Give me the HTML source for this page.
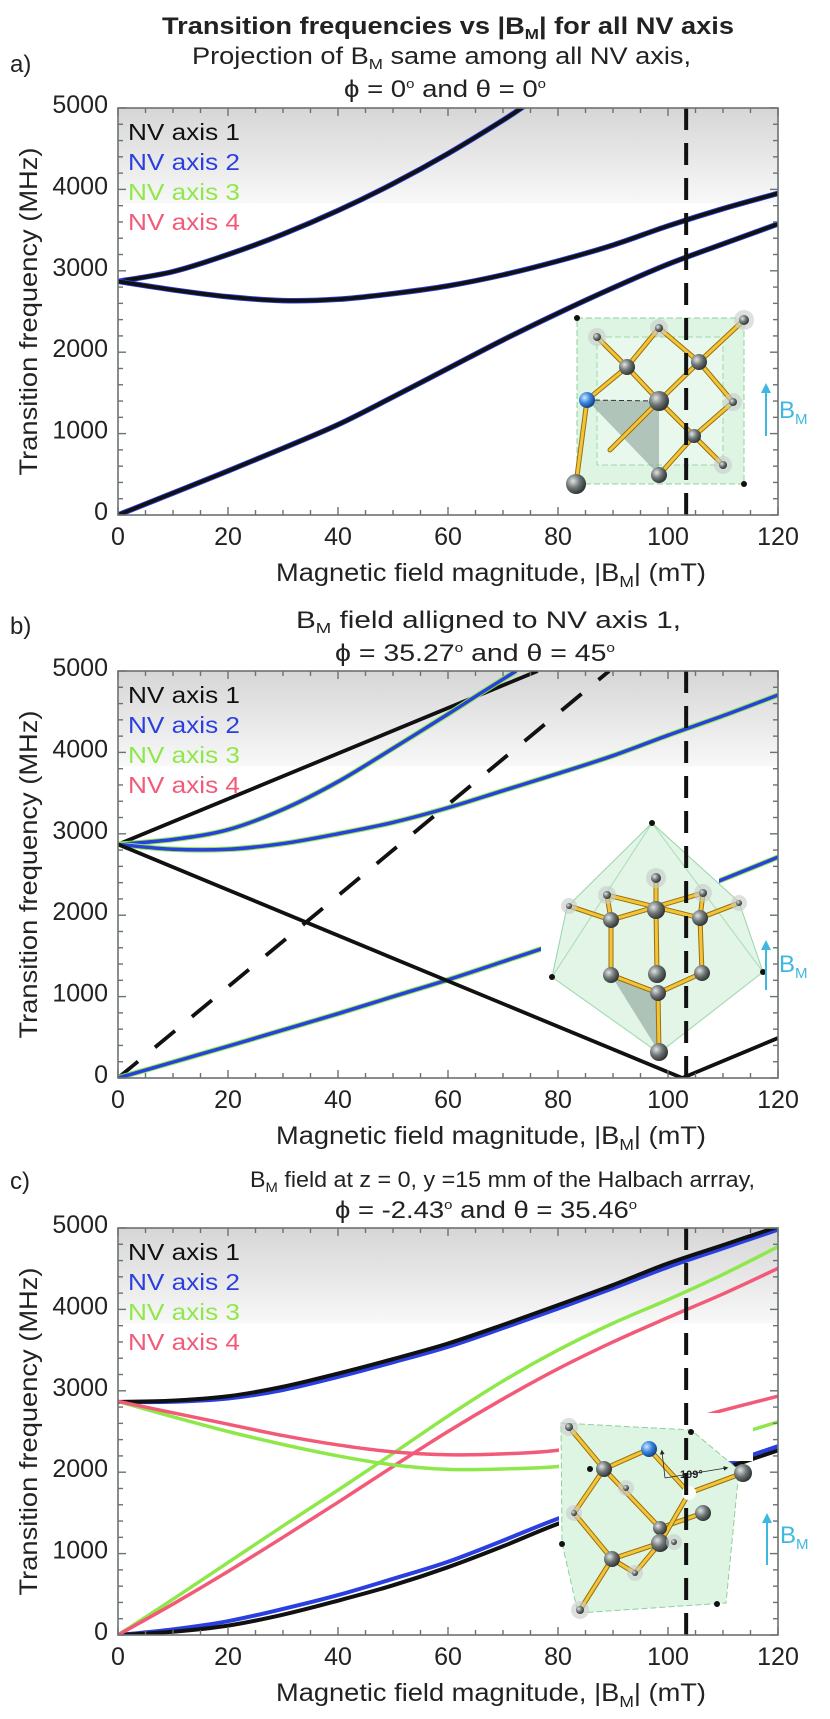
<!DOCTYPE html>
<html><head><meta charset="utf-8">
<style>
html,body{margin:0;padding:0;background:#fff;}
svg{display:block;font-family:"Liberation Sans",Arial,sans-serif;}
</style></head>
<body>
<svg id="fig" xmlns="http://www.w3.org/2000/svg" width="830" height="1719" viewBox="0 0 830 1719">
<defs>
<linearGradient id="band" x1="0" y1="0" x2="0" y2="1">
<stop offset="0" stop-color="#d6d6d6"/><stop offset="1" stop-color="#f8f8f8"/>
</linearGradient>
<radialGradient id="gatom" cx="0.35" cy="0.35" r="0.7">
<stop offset="0" stop-color="#e0e4e4"/><stop offset="0.5" stop-color="#6f7676"/><stop offset="1" stop-color="#2a2e2e"/>
</radialGradient>
<radialGradient id="batom" cx="0.35" cy="0.35" r="0.7">
<stop offset="0" stop-color="#cfe6ff"/><stop offset="0.5" stop-color="#3a86e0"/><stop offset="1" stop-color="#0d3c80"/>
</radialGradient>
<marker id="arrC" viewBox="0 0 10 10" refX="5" refY="5" markerWidth="5" markerHeight="5" orient="auto"><path d="M0,0L10,5L0,10z" fill="#3fb8e0"/></marker>
<marker id="arrK" viewBox="0 0 10 10" refX="5" refY="5" markerWidth="6" markerHeight="6" orient="auto"><path d="M0,0L10,5L0,10z" fill="#222"/></marker>
</defs>

<text x="448" y="34" text-anchor="middle" font-size="24" font-weight="bold" fill="#222" textLength="572" lengthAdjust="spacingAndGlyphs">Transition frequencies vs |B<tspan font-size="15" dy="5">M</tspan><tspan dy="-5">| for all NV axis</tspan></text>

<text x="10" y="72" font-size="24" fill="#222">a)</text>
<text x="192" y="64" font-size="24" fill="#222" textLength="499" lengthAdjust="spacingAndGlyphs">Projection of B<tspan font-size="15" dy="5">M</tspan><tspan dy="-5"> same among all NV axis,</tspan></text>
<text x="344" y="97" font-size="24" fill="#222" textLength="202" lengthAdjust="spacingAndGlyphs">ϕ = 0<tspan font-size="13" dy="-9">o</tspan><tspan dy="9"> and θ = 0</tspan><tspan font-size="13" dy="-9">o</tspan></text>

<text x="10" y="634" font-size="24" fill="#222">b)</text>
<text x="296" y="628" font-size="24" fill="#222" textLength="385" lengthAdjust="spacingAndGlyphs">B<tspan font-size="15" dy="5">M</tspan><tspan dy="-5"> field alligned to NV axis 1,</tspan></text>
<text x="335" y="661" font-size="24" fill="#222" textLength="280" lengthAdjust="spacingAndGlyphs">ϕ = 35.27<tspan font-size="13" dy="-9">o</tspan><tspan dy="9"> and θ = 45</tspan><tspan font-size="13" dy="-9">o</tspan></text>

<text x="10" y="1189" font-size="24" fill="#222">c)</text>
<text x="250" y="1187" font-size="22" fill="#222" textLength="505" lengthAdjust="spacingAndGlyphs">B<tspan font-size="14" dy="5">M</tspan><tspan dy="-5"> field at z = 0, y =15 mm of the Halbach arrray,</tspan></text>
<text x="335" y="1218" font-size="24" fill="#222" textLength="302" lengthAdjust="spacingAndGlyphs">ϕ = -2.43<tspan font-size="13" dy="-9">o</tspan><tspan dy="9"> and θ = 35.46</tspan><tspan font-size="13" dy="-9">o</tspan></text>

<g id="plots"></g>
</svg>

<script>
// ---------- data ----------
const xTicks = [0, 20, 40, 60, 80, 100, 120];
const yTicks = [0, 1000, 2000, 3000, 4000, 5000];
const legendLabels = ["NV axis 1", "NV axis 2", "NV axis 3", "NV axis 4"];
const legendColors = ["#111111", "#2a3fe0", "#8ee84a", "#f25a78"];
const gridB = [0, 10, 20, 30, 40, 50, 60, 70, 80, 90, 100, 110, 120];
const markerField = 103.3;

// panel a
const aUpperB = [0, 10, 20, 30, 40, 50, 60, 70, 74];
const aUpper = [2870, 2990, 3200, 3450, 3740, 4070, 4440, 4850, 5030];
const aMiddle = [2870, 2766, 2681, 2634, 2650, 2720, 2815, 2950, 3120, 3316, 3551, 3763, 3951];
const aLower = [0, 270, 541, 820, 1110, 1450, 1800, 2150, 2479, 2790, 3081, 3330, 3575];

// panel b
const bBlackUpB = [0, 76.3];
const bBlackUp = [2870, 5000];
const bBlackLowB = [0, 102.6, 120];
const bBlackLow = [2870, 0, 491];
const bDashB = [0, 89.3];
const bDash = [0, 5000];
const bUpperB = [0, 10, 20, 30, 40, 50, 60, 66, 72.4];
const bUpper = [2870, 2930, 3050, 3300, 3640, 4050, 4470, 4730, 5000];
const bMiddle = [2870, 2810, 2810, 2880, 3000, 3140, 3320, 3530, 3740, 3960, 4210, 4450, 4705];
const bLower = [0, 195, 390, 590, 790, 1000, 1207, 1430, 1657, 1910, 2170, 2440, 2713];

// panel c
const cBlackUp = [2863, 2880, 2933, 3050, 3212, 3390, 3581, 3810, 4053, 4300, 4565, 4790, 5016];
const cBlueUp = [2863, 2865, 2905, 3010, 3170, 3350, 3540, 3770, 4010, 4260, 4520, 4750, 4980];
const cGreenUp = [0, 440, 890, 1340, 1780, 2230, 2690, 3120, 3500, 3830, 4120, 4430, 4770];
const cRedUp = [0, 380, 780, 1200, 1630, 2070, 2500, 2900, 3270, 3600, 3900, 4190, 4504];
const cGreenDown = [2870, 2680, 2500, 2340, 2200, 2090, 2035, 2040, 2070, 2160, 2280, 2420, 2617];
const cRedDown = [2870, 2730, 2590, 2450, 2335, 2250, 2215, 2225, 2270, 2400, 2570, 2760, 2933];
const cBlackLow = [0, 40, 115, 250, 422, 610, 833, 1090, 1366, 1580, 1810, 2040, 2268];
const cBlueLow = [0, 70, 170, 320, 490, 690, 900, 1160, 1430, 1650, 1860, 2090, 2320];

// ---------- drawing ----------
const NS = "http://www.w3.org/2000/svg";
const root = document.getElementById("plots");
const L = 118, R = 778, H = 407;
function mk(tag, attrs, parent) {
  const e = document.createElementNS(NS, tag);
  for (const k in attrs) e.setAttribute(k, attrs[k]);
  (parent || root).appendChild(e);
  return e;
}
function sx(b) { return L + (b / 120) * (R - L); }

function smoothPath(pts, smooth) {
  let d = "M" + pts[0][0].toFixed(2) + "," + pts[0][1].toFixed(2);
  if (!smooth || pts.length < 3) {
    for (let i = 1; i < pts.length; i++) d += "L" + pts[i][0].toFixed(2) + "," + pts[i][1].toFixed(2);
    return d;
  }
  for (let i = 0; i < pts.length - 1; i++) {
    const p0 = pts[Math.max(0, i - 1)], p1 = pts[i], p2 = pts[i + 1], p3 = pts[Math.min(pts.length - 1, i + 2)];
    const c1x = p1[0] + (p2[0] - p0[0]) / 6, c1y = p1[1] + (p2[1] - p0[1]) / 6;
    const c2x = p2[0] - (p3[0] - p1[0]) / 6, c2y = p2[1] - (p3[1] - p1[1]) / 6;
    d += "C" + c1x.toFixed(2) + "," + c1y.toFixed(2) + " " + c2x.toFixed(2) + "," + c2y.toFixed(2) + " " + p2[0].toFixed(2) + "," + p2[1].toFixed(2);
  }
  return d;
}

function panel(top, id, series, inset, over) {
  const sy = f => top + H - (f / 5000) * H;
  const g = mk("g", {});
  
  
  const clipId = "clip" + id;
  const cp = mk("clipPath", { id: clipId }, g);
  mk("rect", { x: L, y: top, width: R - L, height: H }, cp);

  const band = mk("rect", { x: L, y: top, width: R - L, height: sy(3830) - top, fill: "url(#band)" }, g);
  
  

  const drawSeries = (list, parent) => list.forEach(s => {
    const xsArr = s.b || gridB;
    const pts = s.v.map((v, i) => [sx(xsArr[i]), sy(v)]);
    const p = mk("path", { d: smoothPath(pts, !s.straight), fill: "none", stroke: s.c, "stroke-width": s.w, "stroke-linejoin": "round", "stroke-linecap": "butt" }, parent);
    if (s.dash) p.setAttribute("stroke-dasharray", s.dash);
    
    
  });
  const cg = mk("g", { "clip-path": "url(#" + clipId + ")" }, g);
  drawSeries(series, cg);

  inset(g, sy);

  if (over) { const og = mk("g", { "clip-path": "url(#" + clipId + ")" }, g); drawSeries(over, og); }

  const vd = mk("line", { x1: sx(markerField), x2: sx(markerField), y1: top, y2: top + H, stroke: "#111", "stroke-width": 4, "stroke-dasharray": "22 13" }, g);
  
  

  const fr = mk("rect", { x: L, y: top, width: R - L, height: H, fill: "none", stroke: "#6b7272", "stroke-width": 1.6 }, g);
  
  
  for (let b = 0; b <= 120; b += 5) {
    const len = b % 20 === 0 ? 8 : 5;
    mk("line", { x1: sx(b), x2: sx(b), y1: top + H, y2: top + H - len, stroke: "#6b7272", "stroke-width": 1.4 }, g);
    mk("line", { x1: sx(b), x2: sx(b), y1: top, y2: top + len, stroke: "#6b7272", "stroke-width": 1.4 }, g);
  }
  for (let f = 0; f <= 5000; f += 200) {
    const len = f % 1000 === 0 ? 8 : 5;
    mk("line", { x1: L, x2: L + len, y1: sy(f), y2: sy(f), stroke: "#6b7272", "stroke-width": 1.4 }, g);
    mk("line", { x1: R, x2: R - len, y1: sy(f), y2: sy(f), stroke: "#6b7272", "stroke-width": 1.4 }, g);
  }
  xTicks.forEach(t => {
    const tx = mk("text", { x: sx(t), y: top + H + 30, "text-anchor": "middle", "font-size": 25, fill: "#222" }, g);
    tx.textContent = t;
    
    
  });
  yTicks.forEach(t => {
    const ty = mk("text", { x: 108, y: sy(t) + 5, "text-anchor": "end", "font-size": 25, fill: "#222" }, g);
    ty.textContent = t;
    
    
  });
  const xl = mk("text", { x: 276, y: top + H + 66, "font-size": 25, fill: "#222", textLength: 430, lengthAdjust: "spacingAndGlyphs" }, g);
  xl.innerHTML = 'Magnetic field magnitude, |B<tspan font-size="16" dy="6">M</tspan><tspan dy="-6">| (mT)</tspan>';
  
  
  const cy = top + H / 2;
  const yl = mk("text", { x: 0, y: 0, "text-anchor": "middle", "font-size": 25, fill: "#222", transform: "translate(37," + cy + ") rotate(-90)", textLength: 328, lengthAdjust: "spacingAndGlyphs" }, g);
  yl.textContent = "Transition frequency (MHz)";
  
  

  legendLabels.forEach((lab, i) => {
    const t = mk("text", { x: 128, y: top + 32 + i * 30, "font-size": 23, fill: legendColors[i], textLength: 112, lengthAdjust: "spacingAndGlyphs" }, g);
    t.textContent = lab;
    
    
  });
}

function atom(g, x, y, r, blue, halo) {
  if (halo) mk("circle", { cx: x, cy: y, r: r + 5, fill: "#c8cccc", opacity: 0.6 }, g);
  mk("circle", { cx: x, cy: y, r: r, fill: blue ? "url(#batom)" : "url(#gatom)" }, g);
}
function dot(g, x, y) { mk("circle", { cx: x, cy: y, r: 3, fill: "#111" }, g); }
function sticks(g, pts) {
  pts.forEach(p => {
    mk("line", { x1: p[0], y1: p[1], x2: p[2], y2: p[3], stroke: "#9a6f10", "stroke-width": 5, "stroke-linecap": "round" }, g);
    mk("line", { x1: p[0], y1: p[1], x2: p[2], y2: p[3], stroke: "#f2c537", "stroke-width": 3, "stroke-linecap": "round" }, g);
  });
}
function bArrow(g, x, y1, y2, ty) {
  const a = mk("line", { x1: x, y1: y1, x2: x, y2: y2, stroke: "#3fb8e0", "stroke-width": 2, "marker-end": "url(#arrC)" }, g);
  
  
  const t = mk("text", { x: x + 13, y: ty, "font-size": 24, fill: "#3fb8e0" }, g);
  t.innerHTML = 'B<tspan font-size="15" dy="6">M</tspan>';
  
  
}

function insetA(g) {
  const ig = mk("g", {}, g);
  
  
  mk("rect", { x: 572, y: 312, width: 185, height: 186, fill: "#fff" }, ig);
  mk("rect", { x: 577, y: 318, width: 167, height: 166, fill: "#dff5e4", stroke: "#8fcf9f", "stroke-width": 1, "stroke-dasharray": "6 3" }, ig);
  mk("rect", { x: 597, y: 337, width: 126, height: 128, fill: "#e8f8ec", stroke: "#9fd8ae", "stroke-width": 1, "stroke-dasharray": "6 3" }, ig);
  mk("polygon", { points: "587,400 659,401 659,475", fill: "#8aa29a", opacity: 0.6 }, ig);
  mk("line", { x1: 587, y1: 400, x2: 659, y2: 401, stroke: "#333", "stroke-width": 1, "stroke-dasharray": "5 3" }, ig);
  sticks(ig, [[597,337,627,367],[627,367,659,328],[659,328,699,362],[699,362,744,320],[627,367,587,400],[627,367,659,401],[699,362,659,401],[699,362,733,402],[659,401,694,436],[694,436,733,402],[694,436,723,465],[694,436,659,475],[587,400,576,484],[659,401,610,450]]);
  atom(ig, 597, 337, 4, false, true); atom(ig, 659, 328, 4, false, true);
  atom(ig, 744, 320, 5, false, true); dot(ig, 577, 318); dot(ig, 744, 484);
  atom(ig, 627, 367, 8); atom(ig, 699, 362, 8); atom(ig, 587, 400, 8, true);
  atom(ig, 659, 401, 10); atom(ig, 733, 402, 4, false, true); atom(ig, 694, 436, 7);
  atom(ig, 659, 475, 8); atom(ig, 723, 465, 4, false, true); atom(ig, 576, 484, 10);
  bArrow(g, 766, 436, 388, 418);
}
function insetB(g) {
  const ig = mk("g", {}, g);
  
  
  mk("rect", { x: 541, y: 845, width: 178, height: 125, fill: "#fff" }, ig);
  mk("polygon", { points: "652,823 739,902 763,972 659,1053 552,977 567,907", fill: "#dff5e4", stroke: "#8fcf9f", "stroke-width": 1, opacity: 0.9 }, ig);
  mk("polygon", { points: "611,975 658,993 659,1052", fill: "#8aa29a", opacity: 0.6 }, ig);
  mk("polyline", { points: "552,977 652,823 763,972 659,1053 552,977", fill: "none", stroke: "#a8dcb5", "stroke-width": 1 }, ig);
  sticks(ig, [[656,878,656,910],[607,895,611,920],[703,893,700,918],[569,906,611,920],[739,903,700,918],[611,920,703,893],[607,895,700,918],[611,920,611,975],[656,910,657,974],[700,918,702,973],[611,975,658,993],[658,993,702,973],[658,993,659,1052]]);
  dot(ig, 652, 823); dot(ig, 552, 977); dot(ig, 763, 972);
  atom(ig, 656, 878, 5, false, true); atom(ig, 607, 895, 4, false, true); atom(ig, 703, 893, 4, false, true);
  atom(ig, 569, 906, 3, false, true); atom(ig, 739, 903, 3, false, true);
  atom(ig, 611, 920, 8); atom(ig, 656, 910, 9); atom(ig, 700, 918, 8);
  atom(ig, 611, 975, 8); atom(ig, 657, 974, 9); atom(ig, 702, 973, 8); atom(ig, 658, 993, 8); atom(ig, 659, 1052, 9);
  bArrow(g, 766, 990, 945, 972);
}
function insetC(g) {
  const ig = mk("g", {}, g);
  
  
  mk("rect", { x: 559, y: 1413, width: 161, height: 207, fill: "#fff" }, ig);
  mk("rect", { x: 719, y: 1427, width: 34, height: 34, fill: "#fff" }, ig);
  mk("polygon", { points: "561,1423 691,1430 739,1470 726,1603 578,1613 562,1543", fill: "#dff5e4", stroke: "#8fcf9f", "stroke-width": 1, "stroke-dasharray": "6 3" }, ig);
  sticks(ig, [[569,1427,604,1469],[604,1469,649,1449],[649,1449,689,1493],[689,1493,743,1473],[604,1469,574,1513],[604,1469,660,1528],[574,1513,612,1559],[660,1543,612,1559],[612,1559,580,1610],[660,1528,703,1513],[689,1493,660,1543],[612,1559,635,1573],[635,1573,660,1543]]);
  mk("circle", { cx: 689, cy: 1493, r: 7, fill: "#fafffa" }, ig);
  dot(ig, 691, 1432); dot(ig, 590, 1469); dot(ig, 562, 1544); dot(ig, 717, 1604);
  atom(ig, 569, 1427, 4, false, true); atom(ig, 649, 1449, 8, true); atom(ig, 604, 1469, 8); atom(ig, 743, 1473, 9);
  atom(ig, 626, 1488, 3, false, true); atom(ig, 574, 1513, 3, false, true); atom(ig, 703, 1513, 8);
  atom(ig, 660, 1528, 7); atom(ig, 660, 1543, 9); atom(ig, 674, 1542, 3, false, true);
  atom(ig, 612, 1559, 8); atom(ig, 635, 1573, 3, false, true); atom(ig, 580, 1610, 4, false, true);
  mk("line", { x1: 665, y1: 1478, x2: 662, y2: 1452, stroke: "#222", "stroke-width": 0.8, "marker-end": "url(#arrK)" }, ig);
  mk("line", { x1: 665, y1: 1478, x2: 726, y2: 1468, stroke: "#222", "stroke-width": 0.8, "marker-end": "url(#arrK)" }, ig);
  const t = mk("text", { x: 680, y: 1478, "font-size": 11, "font-weight": "bold", fill: "#222" }, ig);
  t.textContent = "109°";
  bArrow(g, 767, 1565, 1518, 1543);
}

panel(108, "a", [
  { v: aUpper, b: aUpperB, c: "#2a3fe0", w: 5.5, name: "axis2-upper-a" },
  { v: aUpper, b: aUpperB, c: "#111", w: 3.8, name: "axis1-upper-a" },
  { v: aMiddle, c: "#2a3fe0", w: 5.5, name: "axis2-middle-a" },
  { v: aMiddle, c: "#111", w: 3.8, name: "axis1-middle-a" },
  { v: aLower, c: "#2a3fe0", w: 5.5, name: "axis2-lower-a" },
  { v: aLower, c: "#111", w: 3.8, name: "axis1-lower-a" }
], insetA);

panel(671, "b", [
  { v: bBlackUp, b: bBlackUpB, c: "#111", w: 3.8, straight: true, name: "axis1-upper-b" },
  { v: bDash, b: bDashB, c: "#111", w: 3.8, dash: "26 22", straight: true, name: "reference-dashed-line" },
  { v: bUpper, c: "#8ee84a", w: 5.5, b: bUpperB, name: "axis3-upper-b" },
  { v: bUpper, c: "#2a3fe0", w: 3.5, b: bUpperB, name: "axis2-upper-b" },
  { v: bMiddle, c: "#8ee84a", w: 5.5, name: "axis3-middle-b" },
  { v: bMiddle, c: "#2a3fe0", w: 3.5, name: "axis2-middle-b" },
  { v: bLower, c: "#8ee84a", w: 5.5, name: "axis3-lower-b" },
  { v: bLower, c: "#2a3fe0", w: 3.5, name: "axis2-lower-b" }
], insetB, [
  { v: bBlackLow, b: bBlackLowB, c: "#111", w: 3.8, straight: true, name: "axis1-lower-b" }
]);

panel(1228, "c", [
  { v: cBlueUp, c: "#2a3fe0", w: 4, name: "axis2-upper-c" },
  { v: cBlackUp, c: "#111", w: 4, name: "axis1-upper-c" },
  { v: cBlueLow, c: "#2a3fe0", w: 4, name: "axis2-lower-c" },
  { v: cBlackLow, c: "#111", w: 4, name: "axis1-lower-c" },
  { v: cGreenUp, c: "#8ee84a", w: 3.5, name: "axis3-upper-c" },
  { v: cRedUp, c: "#f25a78", w: 3.5, name: "axis4-upper-c" },
  { v: cGreenDown, c: "#8ee84a", w: 3.5, name: "axis3-lower-c" },
  { v: cRedDown, c: "#f25a78", w: 3.5, name: "axis4-lower-c" }
], insetC);
</script>
</body></html>
